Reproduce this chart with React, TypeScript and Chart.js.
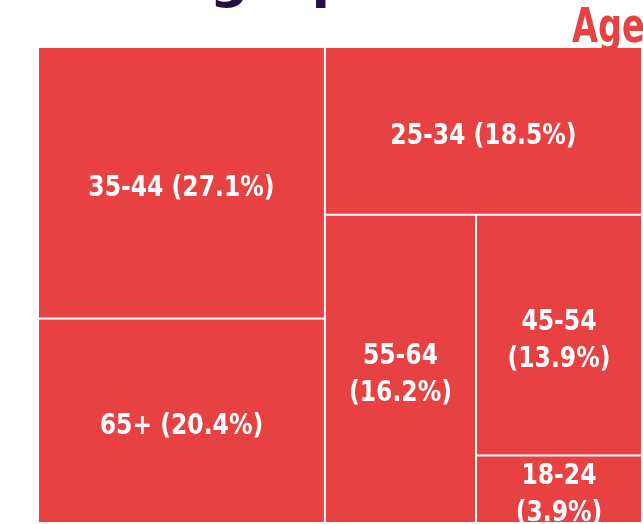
import React, { useEffect, useRef } from "react";
import { Chart, registerables } from "chart.js";

Chart.register(...registerables);

// ---- data ----
const ageGroups = ["35-44", "65+", "25-34", "55-64", "45-54", "18-24"];
const shares = [27.1, 20.4, 18.5, 16.2, 13.9, 3.9];
const titleText = "Demographics";
const subtitleText = "Age Group";

// ---- style ----
const RED = "#E84142";
const NAVY = "#250F40";
const FONT = '"DejaVu Sans", sans-serif';

type Rect = { i: number; x: number; y: number; w: number; h: number };

// Squarified treemap layout (Bruls et al.) with an aspect-ratio weighting parameter
function squarify(values: number[], W: number, H: number, ratio: number): Rect[] {
  const total = values.reduce((a, b) => a + b, 0);
  const scale = (W * H) / total;
  const items = values.map((v, i) => ({ i, a: v * scale })).sort((p, q) => q.a - p.a);
  const out: Rect[] = [];
  let x = 0, y = 0, w = W, h = H, k = 0;
  const worst = (row: { a: number }[], s: number) => {
    let sum = 0, mx = -Infinity, mn = Infinity;
    for (const r of row) { sum += r.a; mx = Math.max(mx, r.a); mn = Math.min(mn, r.a); }
    const s2 = s * s * ratio;
    return Math.max((s2 * mx) / (sum * sum), (sum * sum) / (s2 * mn));
  };
  while (k < items.length) {
    const s = Math.min(w, h);
    let row = [items[k]];
    let j = k + 1;
    while (j < items.length) {
      const cand = [...row, items[j]];
      if (worst(cand, s) <= worst(row, s)) { row = cand; j++; } else break;
    }
    const sum = row.reduce((a, r) => a + r.a, 0);
    if (w >= h) {
      const cw = sum / h;
      let yy = y;
      for (const it of row) { const rh = it.a / cw; out.push({ i: it.i, x, y: yy, w: cw, h: rh }); yy += rh; }
      x += cw; w -= cw;
    } else {
      const rh = sum / w;
      let xx = x;
      for (const it of row) { const rw = it.a / rh; out.push({ i: it.i, x: xx, y, w: rw, h: rh }); xx += rw; }
      y += rh; h -= rh;
    }
    k = j;
  }
  return out;
}

// draw text horizontally condensed
function condensedText(ctx: CanvasRenderingContext2D, text: string, x: number, y: number, sx: number, align: CanvasTextAlign) {
  ctx.save();
  ctx.translate(x, y);
  ctx.scale(sx, 1);
  ctx.textAlign = align;
  ctx.fillText(text, 0, 0);
  ctx.restore();
}

const treemapPlugin = {
  id: "treemap",
  afterDatasetsDraw(chart: any, _args: any, opts: any) {
    const { ctx, chartArea, scales } = chart;
    const xs = scales.x, ys = scales.y;
    const aspect = chartArea.width / chartArea.height;
    const values: number[] = opts.values;
    const labels: string[] = opts.labels;
    const rects = squarify(values, 100 * aspect, 100, opts.ratio);
    const gap = 1;
    const sx = 0.81;
    ctx.save();
    for (const r of rects) {
      const x0 = xs.getPixelForValue(r.x / aspect) + gap;
      const x1 = xs.getPixelForValue((r.x + r.w) / aspect) - gap;
      const y0 = ys.getPixelForValue(r.y) + gap;
      const y1 = ys.getPixelForValue(r.y + r.h) - gap;
      ctx.fillStyle = RED;
      ctx.fillRect(x0, y0, x1 - x0, y1 - y0);

      const text = `${labels[r.i]} (${values[r.i].toFixed(1)}%)`;
      ctx.font = `bold 29px ${FONT}`;
      ctx.fillStyle = "#FFFFFF";
      ctx.textBaseline = "alphabetic";
      const cx = (x0 + x1) / 2;
      const cy = (y0 + y1) / 2;
      const off = 13;
      if (ctx.measureText(text).width * sx > x1 - x0 - 16) {
        condensedText(ctx, labels[r.i], cx, cy + off - 18, sx, "center");
        condensedText(ctx, `(${values[r.i].toFixed(1)}%)`, cx, cy + off + 19, sx, "center");
      } else {
        condensedText(ctx, text, cx, cy + off, sx, "center");
      }
    }
    ctx.restore();
  },
  afterDraw(chart: any) {
    const { ctx } = chart;
    ctx.save();
    ctx.textBaseline = "alphabetic";
    ctx.fillStyle = NAVY;
    ctx.font = `bold 54px ${FONT}`;
    ctx.textAlign = "left";
    ctx.fillText(titleText, 35, -3);
    ctx.fillStyle = RED;
    ctx.font = `bold 48px ${FONT}`;
    condensedText(ctx, subtitleText, 572, 42, 0.7, "left");
    ctx.restore();
  },
};

export default function App() {
  const ref = useRef<HTMLCanvasElement | null>(null);
  useEffect(() => {
    if (!ref.current) return;
    const chart = new Chart(ref.current, {
      type: "scatter",
      data: { datasets: [{ data: [], pointRadius: 0 }] },
      options: {
        animation: false,
        responsive: false,
        devicePixelRatio: 1,
        layout: { padding: { left: 38, top: 47, right: 1, bottom: 1 } },
        scales: {
          x: { type: "linear", min: 0, max: 100, display: false },
          y: { type: "linear", min: 0, max: 100, reverse: true, display: false },
        },
        plugins: {
          legend: { display: false },
          tooltip: { enabled: false },
          title: { display: false },
          treemap: { values: shares, labels: ageGroups, ratio: 0.9 },
        } as any,
      },
      plugins: [treemapPlugin],
    });
    return () => chart.destroy();
  }, []);
  return (
    <div style={{ position: "fixed", left: 0, top: 0, width: 643, height: 524, background: "#FFFFFF" }}>
      <canvas ref={ref} width={643} height={524} style={{ display: "block" }} />
    </div>
  );
}
